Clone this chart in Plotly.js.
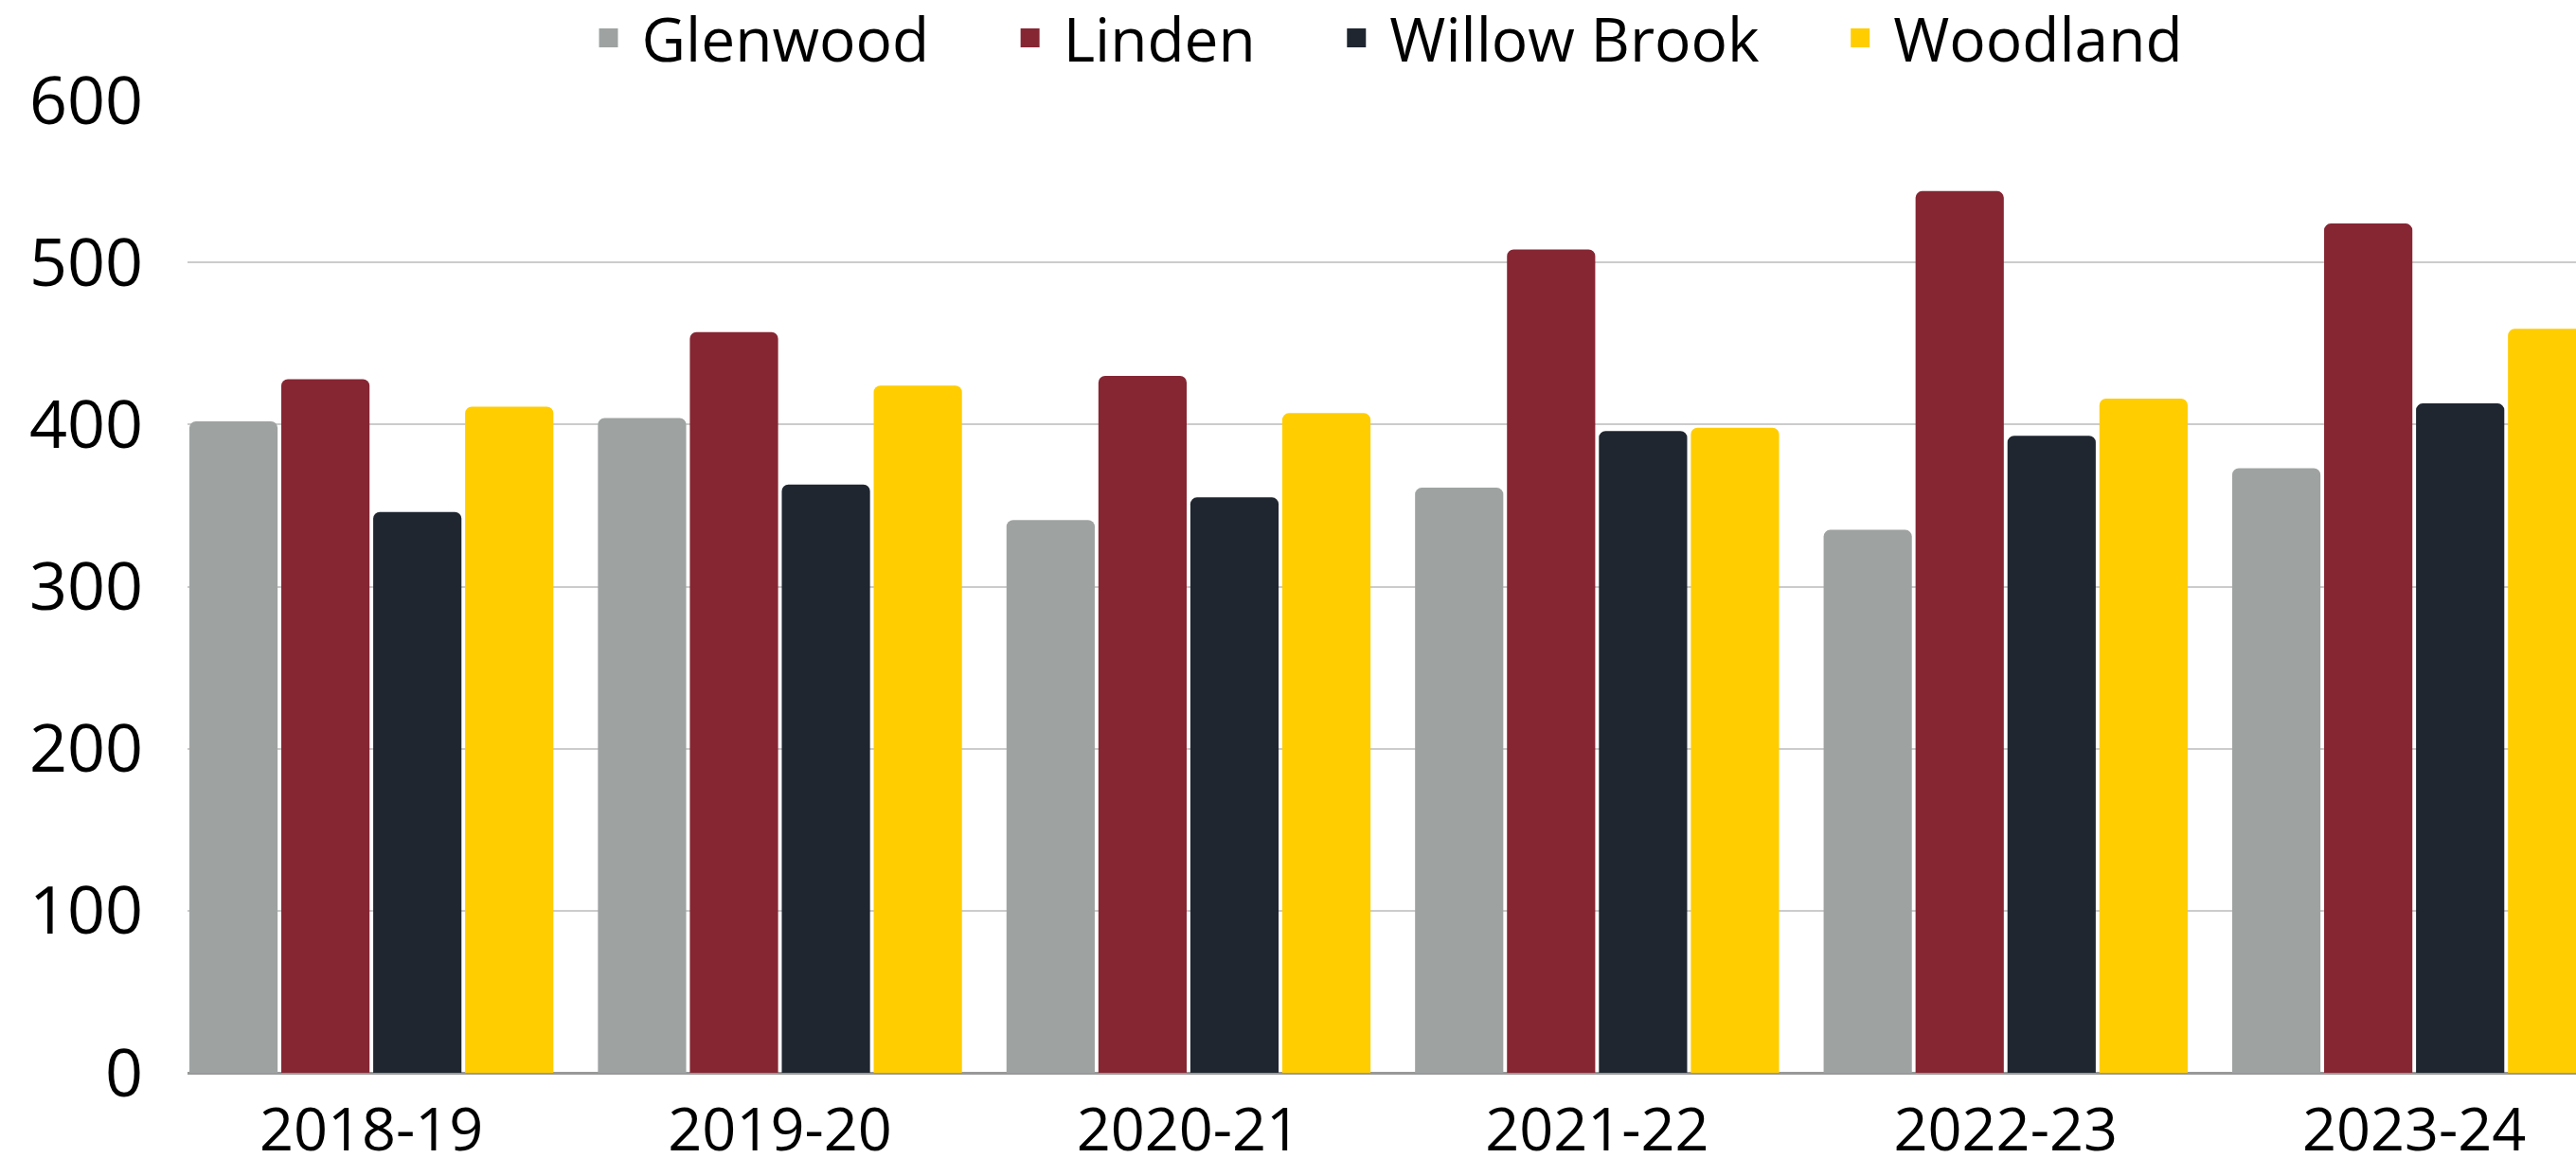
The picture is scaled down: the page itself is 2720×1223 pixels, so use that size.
<!DOCTYPE html>
<html>
<head>
<meta charset="utf-8">
<script src="https://cdn.plot.ly/plotly-3.0.1.min.js"></script>
<style>html,body{margin:0;padding:0;background:#fff;}#chart{width:2720px;height:1223px;}</style>
</head>
<body>
<div id="chart"></div>
<script>
const years = ["2018-19", "2019-20", "2020-21", "2021-22", "2022-23", "2023-24"];
const glenwood = [402, 404, 341, 361, 335, 373];
const linden = [428, 457, 430, 508, 544, 524];
const willowBrook = [346, 363, 355, 396, 393, 413];
const woodland = [411, 424, 407, 398, 416, 459];
const seriesNames = ["Glenwood", "Linden", "Willow Brook", "Woodland"];
const seriesColors = ["#9EA3A2", "#862633", "#1F2630", "#FFCD00"];
const yTicks = [0, 100, 200, 300, 400, 500, 600];

const FONT = "Open Sans, sans-serif";
const allSeries = [glenwood, linden, willowBrook, woodland];
const NBSP = "\u00a0";

const barTraces = allSeries.map((vals, i) => ({
  type: "bar",
  name: seriesNames[i],
  x: years,
  y: vals,
  showlegend: false,
  marker: {color: seriesColors[i], cornerradius: 7, line: {width: 0}},
  hoverinfo: "x+y+name"
}));

// legend-only entries (larger square swatches)
const legendTraces = seriesNames.map((nm, i) => ({
  type: "scatter",
  mode: "markers",
  name: i < seriesNames.length - 1 ? nm + NBSP.repeat(4) : nm,
  x: [null],
  y: [null],
  showlegend: true,
  marker: {symbol: "square", size: 16, color: seriesColors[i], line: {color: seriesColors[i], width: 4}},
  hoverinfo: "skip"
}));

const layout = {
  width: 2720,
  height: 1223,
  margin: {l: 198, r: 0, t: 106, b: 90, pad: 0, autoexpand: false},
  paper_bgcolor: "#ffffff",
  plot_bgcolor: "#ffffff",
  font: {family: FONT, size: 64, color: "#000000"},
  barmode: "group",
  bargap: 0.1,
  bargroupgap: 0.04,
  showlegend: true,
  legend: {
    orientation: "h",
    xref: "paper",
    x: 0.5, xanchor: "center",
    yref: "container",
    y: 0.967, yanchor: "middle",
    font: {family: FONT, size: 64, color: "#000"},
    itemwidth: 60,
    tracegroupgap: 0,
    bgcolor: "rgba(0,0,0,0)"
  },
  xaxis: {
    type: "category",
    range: [-0.45, 5.396],
    showgrid: false,
    zeroline: false,
    showline: false,
    ticks: "",
    tickfont: {family: FONT, size: 63, color: "#000"},
    ticklabelstandoff: 18,
    fixedrange: true
  },
  yaxis: {
    range: [0, 600],
    tickvals: yTicks,
    ticktext: yTicks.map(String),
    showgrid: true,
    gridcolor: "#cccccc",
    gridwidth: 2,
    zeroline: true,
    zerolinecolor: "#999999",
    zerolinewidth: 3,
    showline: false,
    ticks: "",
    tickfont: {family: FONT, size: 70, color: "#000"},
    ticklabelstandoff: 46,
    fixedrange: true
  }
};

Plotly.newPlot("chart", barTraces.concat(legendTraces), layout, {displayModeBar: false, staticPlot: true});
</script>
</body>
</html>
